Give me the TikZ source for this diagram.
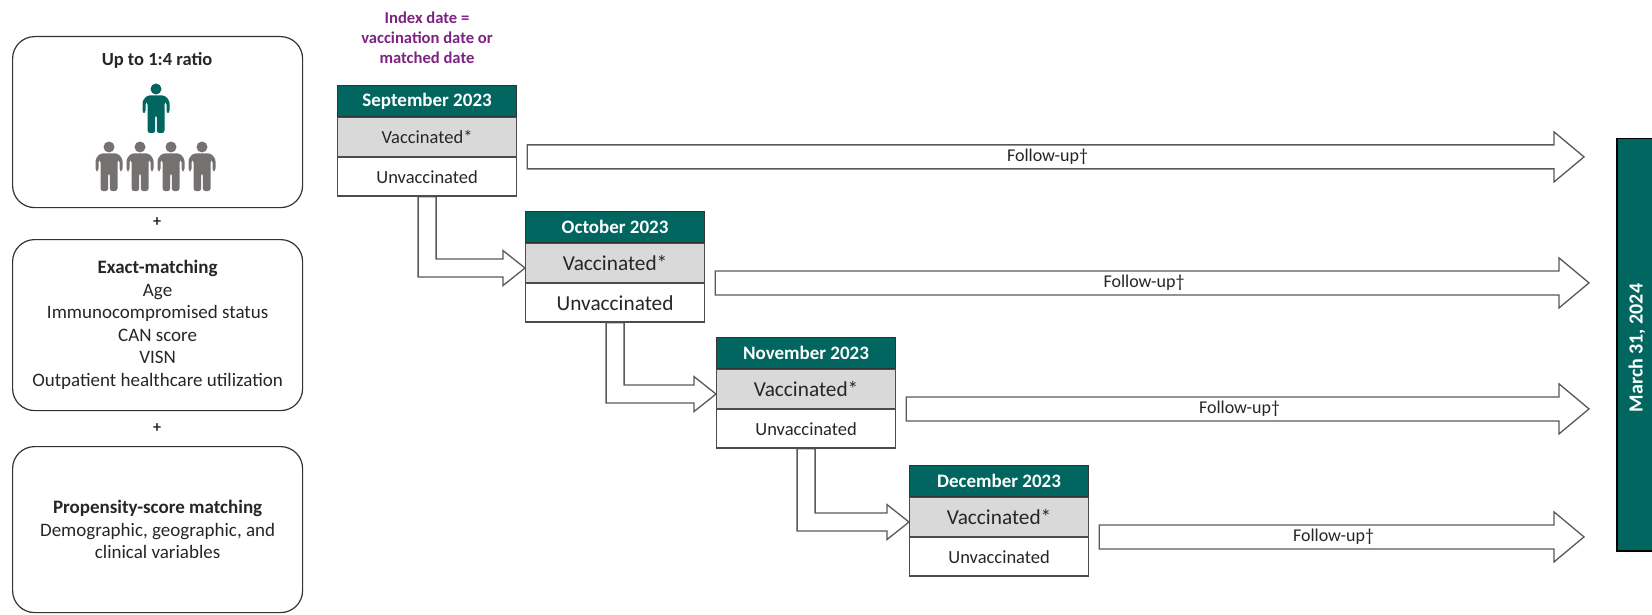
\documentclass[tikz,border=0pt]{standalone}
\usepackage{fontspec}
\setmainfont{Carlito}
\usetikzlibrary{calc,backgrounds}
\definecolor{teal1}{HTML}{00665F}
\definecolor{rowgrey}{HTML}{D9D9D9}
\definecolor{edgegrey}{HTML}{595959}
\definecolor{figgrey}{HTML}{767171}
\definecolor{idxpurple}{HTML}{7B2482}
\definecolor{txt}{HTML}{262626}

\tikzset{
  blockarrow/.style={draw=edgegrey, fill=white, line width=1.3pt, line join=miter},
  lbox/.style={draw=black!80, line width=1.2pt, rounded corners=22pt, minimum width=290pt,
    anchor=north west, inner sep=0pt, align=center, text=txt, font=\fontsize{19}{22.5}\selectfont},
  hdr/.style={draw=black!80, line width=1.2pt, fill=teal1, text=white, font=\bfseries\fontsize{19}{22}\selectfont,
    minimum width=179pt, minimum height=31pt, inner sep=0pt, anchor=north west},
  vrow/.style={draw=black!70, line width=1.2pt, fill=rowgrey, text=txt, minimum width=179pt,
    minimum height=38.5pt, inner sep=0pt, anchor=north west},
  urow/.style={draw=black!70, line width=1.2pt, fill=white, text=txt, minimum width=179pt,
    minimum height=38.5pt, inner sep=0pt, anchor=north west},
  fulabel/.style={text=txt, font=\fontsize{18}{21}\selectfont, inner sep=0pt},
  person/.pic={
    \fill[#1] (0,0) circle (5.5);
    \fill[#1, rounded corners=2.5] (-13.5,24) -- (-13.5,12) -- (-9,6.5) -- (9,6.5) -- (13.5,12) -- (13.5,24)
      -- (10.5,24) -- (10.5,13) -- (8.5,13) -- (8.5,44) -- (0.8,44) -- (0.8,26) -- (-0.8,26) -- (-0.8,44)
      -- (-8.5,44) -- (-8.5,13) -- (-10.5,13) -- (-10.5,24) -- cycle;
  }
}

\newcommand\monthtable[6]{%
  \node[hdr] (#1h) at (#2,#3) {#4};
  \node[vrow, font=\fontsize{#5}{#5}\selectfont] (#1v) at (#1h.south west) {Vaccinated*};
  \node[urow, font=\fontsize{#6}{#6}\selectfont] (#1u) at (#1v.south west) {Unvaccinated};
}
\newcommand\bentarrow[2]{%
  \draw[blockarrow] let \p1=(#1u.south), \p2=($(#2v.west)+(0,5)$) in
    (\x1-9pt,\y1) -- (\x1-9pt,\y2-9pt) -- (\x2-22pt,\y2-9pt) -- (\x2-22pt,\y2-17.5pt) -- (\x2,\y2)
    -- (\x2-22pt,\y2+17.5pt) -- (\x2-22pt,\y2+9pt) -- (\x1+9pt,\y2+9pt) -- (\x1+9pt,\y1) -- cycle;
}
\newcommand\followup[2]{%
  \draw[blockarrow] let \p1=($(#1v.south east)+(10,0)$), \p2=(#2) in
    (\x1,\y1+12pt) -- (\x2-30pt,\y1+12pt) -- (\x2-30pt,\y1+25pt) -- (\x2,\y1) -- (\x2-30pt,\y1-25pt)
    -- (\x2-30pt,\y1-12pt) -- (\x1,\y1-12pt) -- cycle
    ({(\x1+\x2-30pt)/2+7pt},\y1) node[fulabel] (#1f) {Follow-up†};
}

\begin{document}
\begin{tikzpicture}[x=1pt,y=-1pt]
\useasboundingbox (0,0) rectangle (1652,615);

% left panel
\node[lbox, minimum height=171pt] (box1) at (12,36) {};
\node[text=txt, font=\bfseries\fontsize{18.5}{22}\selectfont] (ratio) at (157,60) {Up to 1:4 ratio};
\pic (p0) at (156,89) {person=teal1};
\pic (p1) at (109,147) {person=figgrey};
\pic (p2) at (140,147) {person=figgrey};
\pic (p3) at (171,147) {person=figgrey};
\pic (p4) at (202,147) {person=figgrey};
\node[text=txt, font=\bfseries\fontsize{16}{16}\selectfont] (plus1) at (157,222) {+};
\node[lbox, minimum height=171pt] (box2) at (12,239)
  {\textbf{Exact-matching}\\Age\\Immunocompromised status\\CAN score\\VISN\\Outpatient healthcare utilization};
\node[text=txt, font=\bfseries\fontsize{16}{16}\selectfont] (plus2) at (157,428) {+};
\node[lbox, minimum height=166pt] (box3) at (12,446)
  {\textbf{Propensity-score matching}\\Demographic, geographic, and\\clinical variables};

% index date
\node[text=idxpurple, font=\bfseries\fontsize{16.6}{20}\selectfont, align=center] (idx) at (427,38)
  {Index date =\\vaccination date or\\matched date};

% month tables
\monthtable{sep}{337}{85}{September 2023}{18.5}{18.5}
\monthtable{oct}{525}{211}{October 2023}{21.3}{21.3}
\monthtable{nov}{716}{337}{November 2023}{21.3}{18.5}
\monthtable{dec}{909}{465}{December 2023}{21.3}{18.5}

% end bar
\node[draw=black, line width=1.5pt, fill=teal1, minimum width=42pt, minimum height=412pt,
  inner sep=0pt, anchor=north west] (bar) at (1616,138) {};
\node[rotate=90, text=white, font=\bfseries\fontsize{20}{24}\selectfont] (bartext) at (1637,348) {March 31, 2024};

\coordinate (end1) at (1584,0);
\coordinate (end2) at (1589,0);
\coordinate (end3) at (1589,0);
\coordinate (end4) at (1584,0);

\begin{pgfonlayer}{background}
\bentarrow{sep}{oct}
\bentarrow{oct}{nov}
\bentarrow{nov}{dec}
\end{pgfonlayer}

\followup{sep}{end1}
\followup{oct}{end2}
\followup{nov}{end3}
\followup{dec}{end4}
\end{tikzpicture}
\end{document}
